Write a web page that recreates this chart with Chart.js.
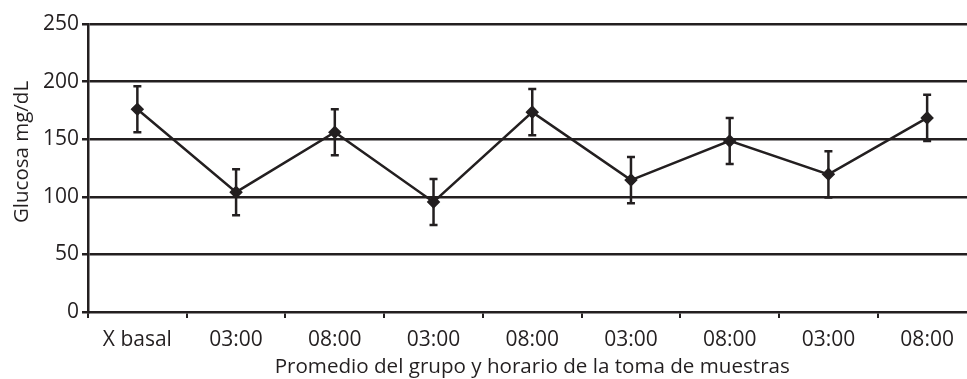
<!DOCTYPE html>
<html>
<head>
<meta charset="utf-8">
<script src="https://cdn.jsdelivr.net/npm/chart.js@4"></script>
<style>
  html, body { margin: 0; padding: 0; background: #fff; overflow: hidden; }
  #wrap { width: 984px; height: 379px; }
  #chart { display: block; width: 984px; height: 379px; }
</style>
</head>
<body>
<div id="wrap"><canvas id="chart" width="984" height="379"></canvas></div>
<script>
// Glucose means by group/time, with error bars
const labels = ['X basal', '03:00', '08:00', '03:00', '08:00', '03:00', '08:00', '03:00', '08:00'];
const glucose = [176, 104, 156, 95.5, 173.5, 114.5, 148.5, 119.5, 168.5];
const errors = [20, 20, 20, 20, 20, 20, 20, 20, 20];
const yTicks = [0, 50, 100, 150, 200, 250];

const ink = '#231f20';
const fontFamily = '"Open Sans", sans-serif';

// draw the error bars from the dataset values
const errorBars = {
  id: 'errorBars',
  afterDatasetsDraw(chart) {
    const ctx = chart.ctx;
    const y = chart.scales.y;
    const meta = chart.getDatasetMeta(0);
    ctx.save();
    ctx.strokeStyle = ink;
    ctx.lineWidth = 2.5;
    meta.data.forEach((pt, i) => {
      const top = y.getPixelForValue(glucose[i] + errors[i]);
      const bot = y.getPixelForValue(glucose[i] - errors[i]);
      ctx.beginPath();
      ctx.moveTo(pt.x, top); ctx.lineTo(pt.x, bot);
      ctx.moveTo(pt.x - 4, top); ctx.lineTo(pt.x + 4, top);
      ctx.moveTo(pt.x - 4, bot); ctx.lineTo(pt.x + 4, bot);
      ctx.stroke();
    });
    ctx.restore();
  }
};

// y title sits a bit above the middle of the axis
const yTitle = {
  id: 'yTitle',
  afterDraw(chart) {
    const ctx = chart.ctx;
    ctx.save();
    ctx.translate(22, 152);
    ctx.rotate(-Math.PI / 2);
    ctx.fillStyle = ink;
    ctx.font = '20.5px ' + fontFamily;
    ctx.textAlign = 'center';
    ctx.textBaseline = 'middle';
    ctx.fillText('Glucosa mg/dL', 0, 0);
    ctx.restore();
  }
};

new Chart(document.getElementById('chart'), {
  type: 'line',
  data: {
    labels: labels,
    datasets: [{
      data: glucose,
      borderColor: ink,
      borderWidth: 2.5,
      backgroundColor: ink,
      pointStyle: 'rectRot',
      pointRadius: 5,
      tension: 0,
      fill: false
    }]
  },
  options: {
    responsive: false,
    animation: false,
    layout: { padding: { top: 24, right: 0, left: 0, bottom: 0 } },
    plugins: {
      legend: { display: false },
      tooltip: { enabled: false }
    },
    scales: {
      x: {
        offset: true,
        grid: {
          offset: true,
          drawOnChartArea: false,
          color: ink,
          lineWidth: 2,
          tickLength: 6,
          tickColor: ink
        },
        border: { color: ink, width: 2.5 },
        ticks: {
          color: ink,
          font: { family: fontFamily, size: 21 },
          padding: 9,
          maxRotation: 0,
          autoSkip: false
        },
        title: {
          display: true,
          text: 'Promedio del grupo y horario de la toma de muestras',
          color: ink,
          font: { family: fontFamily, size: 20.6 },
          padding: { top: 0, bottom: 0 }
        },
        afterFit(scale) { scale.height = 67; }
      },
      y: {
        min: 0,
        max: 250,
        afterBuildTicks(scale) { scale.ticks = yTicks.map(v => ({ value: v })); },
        grid: {
          color: (c) => c.tick && c.tick.value === 0 ? 'rgba(0,0,0,0)' : ink,
          lineWidth: 2.5,
          tickLength: 6,
          tickColor: ink
        },
        border: { color: ink, width: 2.5 },
        ticks: {
          color: ink,
          font: { family: fontFamily, size: 21 },
          padding: 3
        },
        afterFit(scale) { scale.width = 88; }
      }
    }
  },
  plugins: [errorBars, yTitle]
});
</script>
</body>
</html>
